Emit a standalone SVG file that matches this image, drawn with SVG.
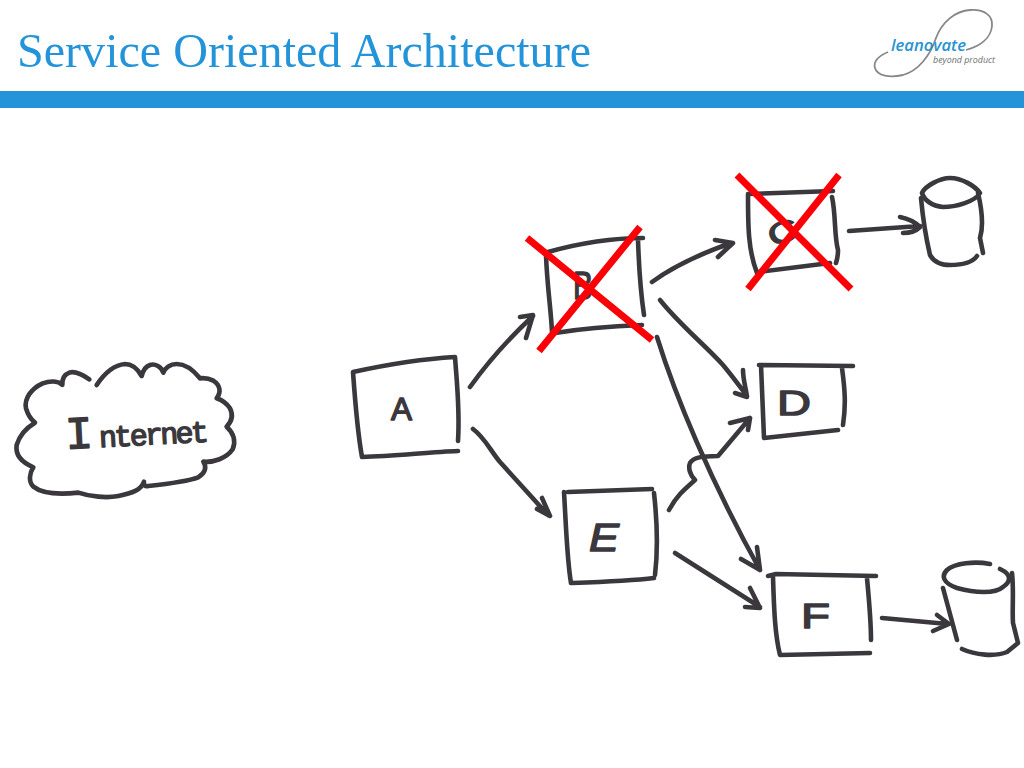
<svg xmlns="http://www.w3.org/2000/svg" width="1024" height="768" viewBox="0 0 1024 768">
<style>
.ink{fill:none;stroke:#3b383d;stroke-width:4.6;stroke-linecap:round;stroke-linejoin:round}
.x{fill:none;stroke:#fb0007;stroke-width:7;stroke-linecap:butt}
.hand{fill:#3b383d;stroke:#3b383d;stroke-width:1.4;stroke-linejoin:round;font-family:"Liberation Sans",Arial,sans-serif}
.mono{font-family:"Liberation Mono",monospace}
</style>
<rect width="1024" height="768" fill="#fff"/>
<g id="header">
<text x="17" y="67" font-family="'Liberation Serif','Times New Roman',serif" font-size="48" fill="#2494da" textLength="574" lengthAdjust="spacingAndGlyphs">Service Oriented Architecture</text>
<rect x="0" y="91" width="1024" height="17" fill="#2494da"/>
</g>
<g id="logo">
<path d="M888 52C878 56 873 62 875 68C877 76 890 78 903 75C918 71 930 56 936 38C942 22 955 11 970 10C985 9 993 16 992 26C991 38 980 46 966 50" fill="none" stroke="#85888a" stroke-width="1.8"/>
<text x="891" y="50.5" font-family="'Open Sans',sans-serif" font-style="italic" font-weight="600" font-size="15.5" fill="#2a93d0" textLength="75" lengthAdjust="spacingAndGlyphs">leanovate</text>
<text x="933" y="63" font-family="'Open Sans',sans-serif" font-style="italic" font-size="8.5" fill="#6e6e6e" textLength="62" lengthAdjust="spacingAndGlyphs">beyond product</text>
</g>
<g id="internet">
<path transform="translate(0 350) scale(.3333)" style="stroke-width:14" class="ink" d="M268 88C245 72 225 62 208 68C192 74 186 88 187 105C175 92 150 92 128 100C95 115 72 145 78 175C84 195 95 210 105 218C85 230 60 250 50 285C46 310 60 335 100 352C88 370 85 395 100 410C125 430 170 435 235 428C270 440 320 445 355 438C395 430 425 420 432 395C430 405 435 410 445 408C500 402 560 395 595 382C615 370 622 352 610 335C640 338 680 325 698 298C708 275 702 250 680 230C695 215 700 195 690 175C680 160 665 150 650 145C665 125 660 105 640 92C625 84 610 84 600 85C580 60 555 42 530 42C510 42 495 55 490 68C485 50 465 40 450 45C435 50 428 65 425 78C415 60 400 42 375 42C340 45 310 75 290 105"/>
<text class="hand mono" x="66" y="449" transform="rotate(-3 66 449)"><tspan font-size="46">I</tspan><tspan font-size="30" dx="6" letter-spacing="-2.7">nternet</tspan></text>
</g>
<g id="node-a">
<path class="ink" d="M353 372C385 365 420 359 455 357C457 385 460 410 458 441M353 372C355 400 358 435 362 457C395 456 430 452 458 451"/>
<text class="hand" x="391" y="420" font-size="31" textLength="21" lengthAdjust="spacingAndGlyphs">A</text>
</g>
<g id="node-b">
<path class="ink" d="M548 252C580 243 612 238 643 238M546 255C547 285 551 310 552 332M555 333C585 328 615 326 642 325M638 240C639 270 641 295 644 315"/>
<text class="hand" x="573" y="299" font-size="38" textLength="20" lengthAdjust="spacingAndGlyphs">B</text>
<path class="x" d="M527 238L652 340M640 227L539 351"/>
</g>
<g id="node-c">
<path class="ink" d="M748 194L833 191M748 195C748 225 748 250 757 273M758 272L830 263M832 197C836 215 834 235 838 250C838 256 837 260 836 263"/>
<text class="hand" x="767" y="242" font-size="30" textLength="30" lengthAdjust="spacingAndGlyphs" transform="rotate(-20 784 230)">C</text>
<path class="x" d="M737 175L851 289M839 175L748 289"/>
</g>
<g id="node-d">
<path class="ink" d="M759 365L853 366M761 365L764 438L838 430M842 368C845 390 846 405 843 425"/>
<text class="hand" x="777" y="415" font-size="35" textLength="34" lengthAdjust="spacingAndGlyphs">D</text>
</g>
<g id="node-e">
<path class="ink" d="M568 492L652 489M564 492C566 525 567 560 571 583C600 582 630 581 654 578M654 493C657 520 658 550 655 575"/>
<text class="hand" x="589" y="551" font-size="39" font-style="italic" textLength="30" lengthAdjust="spacingAndGlyphs">E</text>
</g>
<g id="node-f">
<path class="ink" d="M768 576L776 574L876 576M773 577C774 610 775 635 780 655L870 653M867 578C869 600 871 620 871 640"/>
<text class="hand" x="801" y="628" font-size="35" textLength="29" lengthAdjust="spacingAndGlyphs">F</text>
</g>
<g id="store-1">
<path class="ink" d="M922 193C925 186 940 178 950 178C962 178 975 186 980 193C975 202 955 207 943 207C932 206 924 200 922 193ZM921 198C923 220 926 238 930 255C934 262 940 265 950 265C962 265 972 263 977 256M978 193C982 210 984 225 980 238L983 253"/>
</g>
<g id="store-2">
<path class="ink" d="M990 564C975 561 955 563 947 570C941 576 943 583 957 588C975 593 995 594 1003 587C1010 582 1013 575 1000 569M943 588L957 640M1012 573C1014 590 1012 610 1013 623L1018 643L1007 652C995 657 975 655 962 649"/>
</g>
<g id="connectors">
<path class="ink" d="M470 387C488 362 505 342 533 316M520 317L533 315L526 338"/>
<path class="ink" d="M473 429C485 438 490 450 500 462L548 515M542 498L550 516L537 509"/>
<path class="ink" d="M652 282C675 265 700 254 731 243M715 240L733 243L718 257"/>
<path class="ink" d="M849 231L920 226M900 217C910 219 916 223 920 227C916 231 910 233 903 233"/>
<path class="ink" d="M660 300C680 325 705 345 723 365C733 377 741 388 747 396M743 370C743 380 746 388 747 397L735 393"/>
<path class="ink" d="M669 510C677 495 686 488 695 480C690 475 688 468 690 463C693 458 700 456 718 456L750 418M730 423L750 418L748 430"/>
<path class="ink" d="M657 337C675 395 710 480 760 570M757 547L760 570L741 559"/>
<path class="ink" d="M675 553L760 607M750 588L760 608L745 607"/>
<path class="ink" d="M882 618L948 624M937 615L949 624L933 631"/>
</g>
</svg>
